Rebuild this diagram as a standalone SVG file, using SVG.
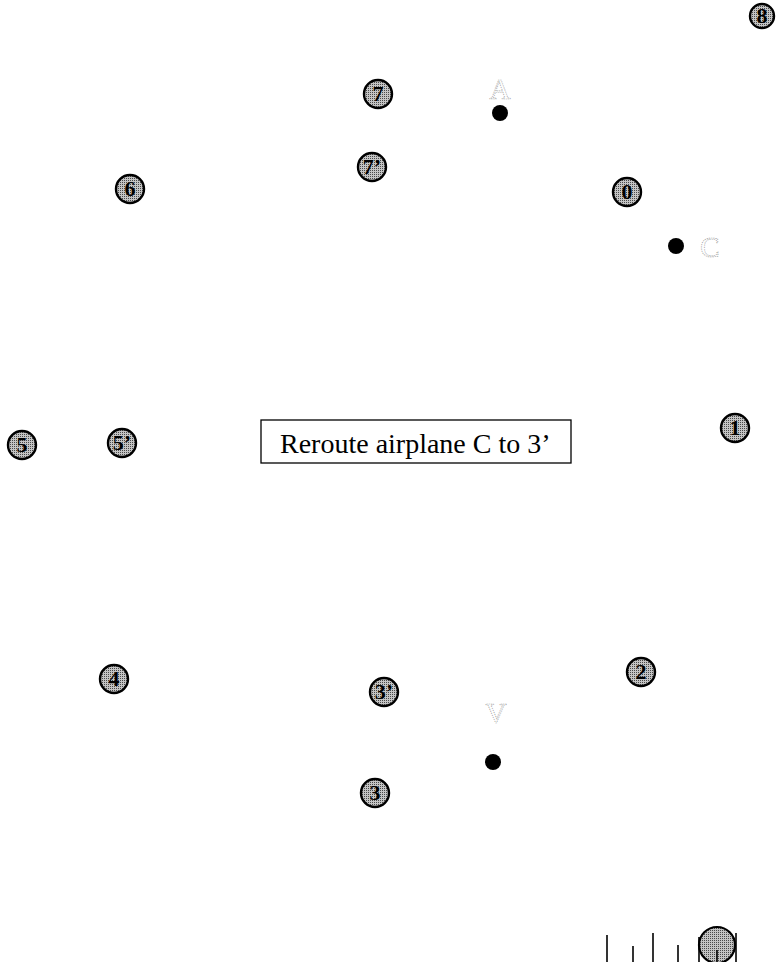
<svg xmlns="http://www.w3.org/2000/svg" width="779" height="962" viewBox="0 0 779 962">
<defs>
<pattern id="stip" width="2" height="2" patternUnits="userSpaceOnUse">
<rect width="2" height="2" fill="#c4c4c4"/>
<rect width="1" height="1" fill="#4a4a4a"/>
</pattern>
</defs>
<style>
.wp circle{fill:url(#stip);stroke:#000;stroke-width:2.4}
.wp text{font-family:"Liberation Serif",serif;font-weight:bold;font-size:22px;text-anchor:middle;fill:#000}
.pl{fill:#000}
.lbl{font-family:"Liberation Serif",serif;font-size:29px;text-anchor:middle;fill:none;stroke:#999;stroke-width:0.7;stroke-dasharray:1.2 1}
.tick{stroke:#000;stroke-width:1.6}
</style>
<rect width="779" height="962" fill="#fff"/>
<g id="wp8" class="wp"><circle cx="762" cy="16" r="12"/><text x="762" y="23">8</text></g>
<g id="wp7" class="wp"><circle cx="378" cy="94" r="14"/><text x="378" y="101">7</text></g>
<g id="wp7p" class="wp"><circle cx="372" cy="167" r="14"/><text x="372" y="174">7’</text></g>
<g id="wp6" class="wp"><circle cx="130" cy="189" r="14"/><text x="130" y="196">6</text></g>
<g id="wp0" class="wp"><circle cx="627" cy="192" r="14"/><text x="627" y="199">0</text></g>
<g id="wp5" class="wp"><circle cx="22" cy="445" r="14"/><text x="22" y="452">5</text></g>
<g id="wp5p" class="wp"><circle cx="122" cy="443" r="14"/><text x="122" y="450">5’</text></g>
<g id="wp1" class="wp"><circle cx="735" cy="428" r="14"/><text x="735" y="435">1</text></g>
<g id="wp4" class="wp"><circle cx="114" cy="679" r="14"/><text x="114" y="686">4</text></g>
<g id="wp3p" class="wp"><circle cx="384" cy="692" r="14"/><text x="384" y="699">3’</text></g>
<g id="wp2" class="wp"><circle cx="641" cy="672" r="14"/><text x="641" y="679">2</text></g>
<g id="wp3" class="wp"><circle cx="375" cy="793" r="14"/><text x="375" y="800">3</text></g>
<g id="planeA"><circle class="pl" cx="500" cy="113" r="8"/><text class="lbl" x="500" y="99">A</text></g>
<g id="planeC"><circle class="pl" cx="676" cy="246" r="8"/><text class="lbl" x="710" y="257">C</text></g>
<g id="planeV"><circle class="pl" cx="493" cy="762" r="8"/><text class="lbl" x="496" y="723">V</text></g>
<g id="message">
<rect x="261" y="420" width="310" height="43" fill="#fff" stroke="#000" stroke-width="1.3"/>
<text x="280" y="453" font-family="Liberation Serif, serif" font-size="28" fill="#000">Reroute airplane C to 3’</text>
</g>
<g id="gauge">
<line class="tick" x1="607" y1="935" x2="607" y2="962"/>
<line class="tick" x1="633" y1="946" x2="633" y2="962"/>
<line class="tick" x1="653" y1="933" x2="653" y2="962"/>
<line class="tick" x1="678" y1="945" x2="678" y2="962"/>
<line class="tick" x1="699" y1="937" x2="699" y2="962"/>
<line class="tick" x1="736" y1="933" x2="736" y2="962"/>
<circle cx="717" cy="945" r="18" fill="url(#stip)" stroke="#000" stroke-width="2.2"/>
<line class="tick" x1="717" y1="950" x2="717" y2="962"/>
</g>
</svg>
